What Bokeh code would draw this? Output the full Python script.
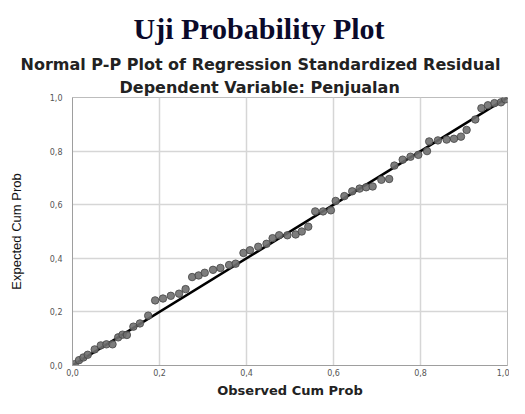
from bokeh.plotting import figure
from bokeh.models import Title, ColumnDataSource
from bokeh.embed import file_html
from bokeh.resources import INLINE

# Data: observed cumulative probability (x) vs expected cumulative probability (y)
observed = [0.005, 0.015, 0.025, 0.035, 0.051, 0.065, 0.078, 0.092, 0.105, 0.115, 0.125,
            0.14, 0.155, 0.174, 0.19, 0.208, 0.226, 0.245, 0.26, 0.275, 0.29, 0.304,
            0.323, 0.34, 0.36, 0.375, 0.393, 0.408, 0.427, 0.446, 0.46, 0.475, 0.494,
            0.513, 0.527, 0.542, 0.558, 0.576, 0.594, 0.605, 0.625, 0.643, 0.66, 0.675,
            0.69, 0.71, 0.728, 0.74, 0.759, 0.777, 0.795, 0.815, 0.82, 0.84, 0.86,
            0.877, 0.893, 0.906, 0.926, 0.94, 0.955, 0.97, 0.985, 0.995]
expected = [0.005, 0.02, 0.03, 0.04, 0.06, 0.075, 0.079, 0.079, 0.105, 0.115, 0.114,
            0.145, 0.157, 0.186, 0.243, 0.25, 0.26, 0.268, 0.285, 0.33, 0.336, 0.346,
            0.357, 0.364, 0.375, 0.38, 0.42, 0.43, 0.443, 0.454, 0.475, 0.486, 0.486,
            0.489, 0.5, 0.518, 0.575, 0.575, 0.579, 0.614, 0.632, 0.65, 0.66, 0.665,
            0.668, 0.693, 0.696, 0.746, 0.768, 0.779, 0.786, 0.80, 0.836, 0.84, 0.843,
            0.846, 0.854, 0.879, 0.918, 0.96, 0.971, 0.979, 0.982, 0.993]
ref_line_x = [0.0, 1.0]
ref_line_y = [0.0, 1.0]
tick_vals = [0.0, 0.2, 0.4, 0.6, 0.8, 1.0]
tick_labels = ["0,0", "0,2", "0,4", "0,6", "0,8", "1,0"]

main_title = "Uji Probability Plot"
sub_title = "Normal P-P Plot of Regression Standardized Residual"
dep_title = "Dependent Variable: Penjualan"
x_label = "Observed Cum Prob"
y_label = "Expected Cum Prob"

FRAME_W, FRAME_H = 435, 268
p = figure(frame_width=FRAME_W, frame_height=FRAME_H, output_backend="svg",
           toolbar_location=None, x_range=(0, 1), y_range=(0, 1),
           min_border_left=72, min_border_right=2, min_border_top=97, min_border_bottom=30)
p.background_fill_color = "white"
p.border_fill_color = "white"
p.outline_line_color = "#bdbdbd"
p.outline_line_width = 1

for ax in (p.xaxis, p.yaxis):
    ax.ticker = tick_vals
    ax.major_label_overrides = {v: l for v, l in zip(tick_vals, tick_labels)}
    ax.major_tick_line_color = None
    ax.minor_tick_line_color = None
    ax.major_tick_out = 0
    ax.major_tick_in = 0
    ax.minor_tick_out = 0
    ax.minor_tick_in = 0
    ax.axis_line_color = "#9e9e9e"
    ax.major_label_text_font = "DejaVu Sans"
    ax.major_label_text_font_size = "8px"
    ax.major_label_text_color = "#555555"

p.xaxis.axis_label = x_label
p.xaxis.axis_label_text_font = "DejaVu Sans"
p.xaxis.axis_label_text_font_style = "bold"
p.xaxis.axis_label_text_font_size = "13px"
p.xaxis.axis_label_text_color = "#222222"
p.xaxis.major_label_standoff = 3
p.xaxis.axis_label_standoff = 4

p.yaxis.axis_label = y_label
p.yaxis.axis_label_text_font = "Liberation Sans"
p.yaxis.axis_label_text_font_style = "normal"
p.yaxis.axis_label_text_font_size = "13px"
p.yaxis.axis_label_text_color = "#111111"
p.yaxis.major_label_standoff = 10
p.yaxis.axis_label_standoff = 23

p.xgrid.ticker = tick_vals
p.ygrid.ticker = tick_vals
p.xgrid.grid_line_color = "#d6d6d6"
p.ygrid.grid_line_color = "#d6d6d6"
p.xgrid.grid_line_width = 1.5
p.ygrid.grid_line_width = 1.5

p.line(ref_line_x, ref_line_y, line_color="black", line_width=2.5)
src = ColumnDataSource(dict(x=observed, y=expected))
p.scatter("x", "y", source=src, size=7.5, fill_color="#6f6f6f", line_color="#444444",
          line_width=0.8, fill_alpha=0.9)

# Titles: left-aligned with offsets so that they are centred on the whole canvas
p.add_layout(Title(text=dep_title, align="left", offset=47, text_font="DejaVu Sans",
                   text_font_size="16px", text_font_style="bold", text_color="#222222",
                   standoff=1), "above")
p.add_layout(Title(text=sub_title, align="left", offset=-52, text_font="DejaVu Sans",
                   text_font_size="16px", text_font_style="bold", text_color="#222222",
                   standoff=3), "above")
p.add_layout(Title(text=main_title, align="left", offset=61, text_font="Liberation Serif",
                   text_font_size="30px", text_font_style="bold", text_color="#0a0a2a",
                   standoff=14), "above")

open("out.html", "w").write(file_html(p, INLINE))
